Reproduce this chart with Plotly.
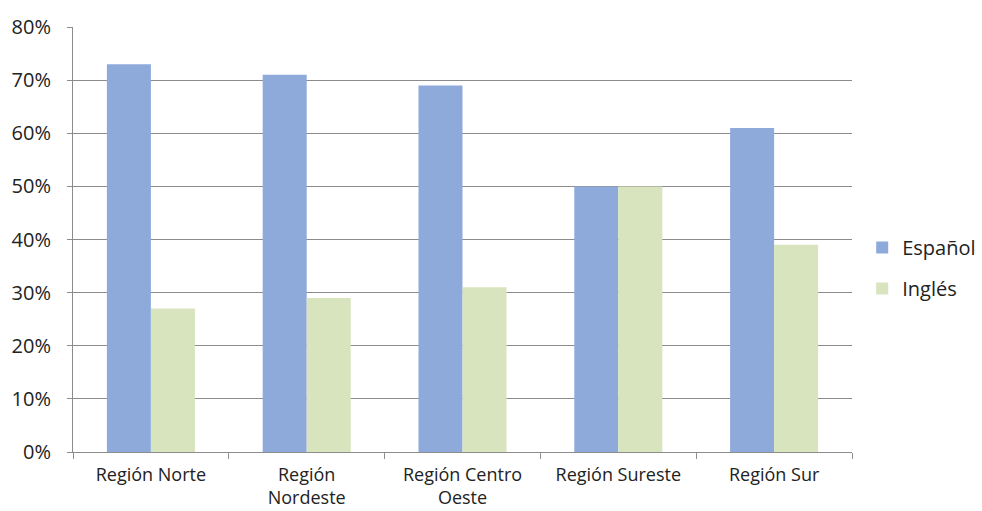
import plotly.graph_objects as go

regiones = ["Región Norte", "Región<br>Nordeste", "Región Centro<br>Oeste", "Región Sureste", "Región Sur"]
espanol = [0.73, 0.71, 0.69, 0.50, 0.61]
ingles = [0.27, 0.29, 0.31, 0.50, 0.39]
y_ticks = [0, 0.1, 0.2, 0.3, 0.4, 0.5, 0.6, 0.7, 0.8]
y_labels = ["0%", "10%", "20%", "30%", "40%", "50%", "60%", "70%", "80%"]

FONT = "Open Sans, Liberation Sans, sans-serif"
GRID = "#8c8c8c"

fig = go.Figure()
fig.add_trace(go.Bar(name="Español", x=regiones, y=espanol, legendgroup="es",
                     marker=dict(color="#8eaadb", line=dict(width=0))))
fig.add_trace(go.Bar(name="Inglés", x=regiones, y=ingles, legendgroup="en",
                     marker=dict(color="#d7e4bd", line=dict(width=0))))

fig.update_layout(
    width=982, height=511,
    paper_bgcolor="white", plot_bgcolor="white",
    margin=dict(l=73, r=130, t=27, b=59, autoexpand=False),
    barmode="group", bargap=0.435, bargroupgap=0,
    font=dict(family=FONT, size=20, color="#222222"),
    legend=dict(xref="container", yref="container", x=0.878, y=0.4755,
                xanchor="left", yanchor="middle",
                font=dict(size=20), tracegroupgap=12, itemwidth=30),
    showlegend=True,
)
fig.update_yaxes(
    range=[0, 0.8], tickvals=y_ticks, ticktext=y_labels,
    showgrid=True, gridcolor=GRID, gridwidth=1,
    showline=True, linecolor=GRID, linewidth=1,
    ticks="outside", ticklen=5, tickcolor=GRID,
    zeroline=False, ticklabelstandoff=12,
)
fig.update_xaxes(
    showline=True, linecolor=GRID, linewidth=1,
    ticks="outside", tickson="boundaries", ticklen=6, tickcolor=GRID,
    showgrid=False, ticklabelstandoff=6, tickangle=0,
    tickfont=dict(size=18),
)

fig.write_html("out.html")
